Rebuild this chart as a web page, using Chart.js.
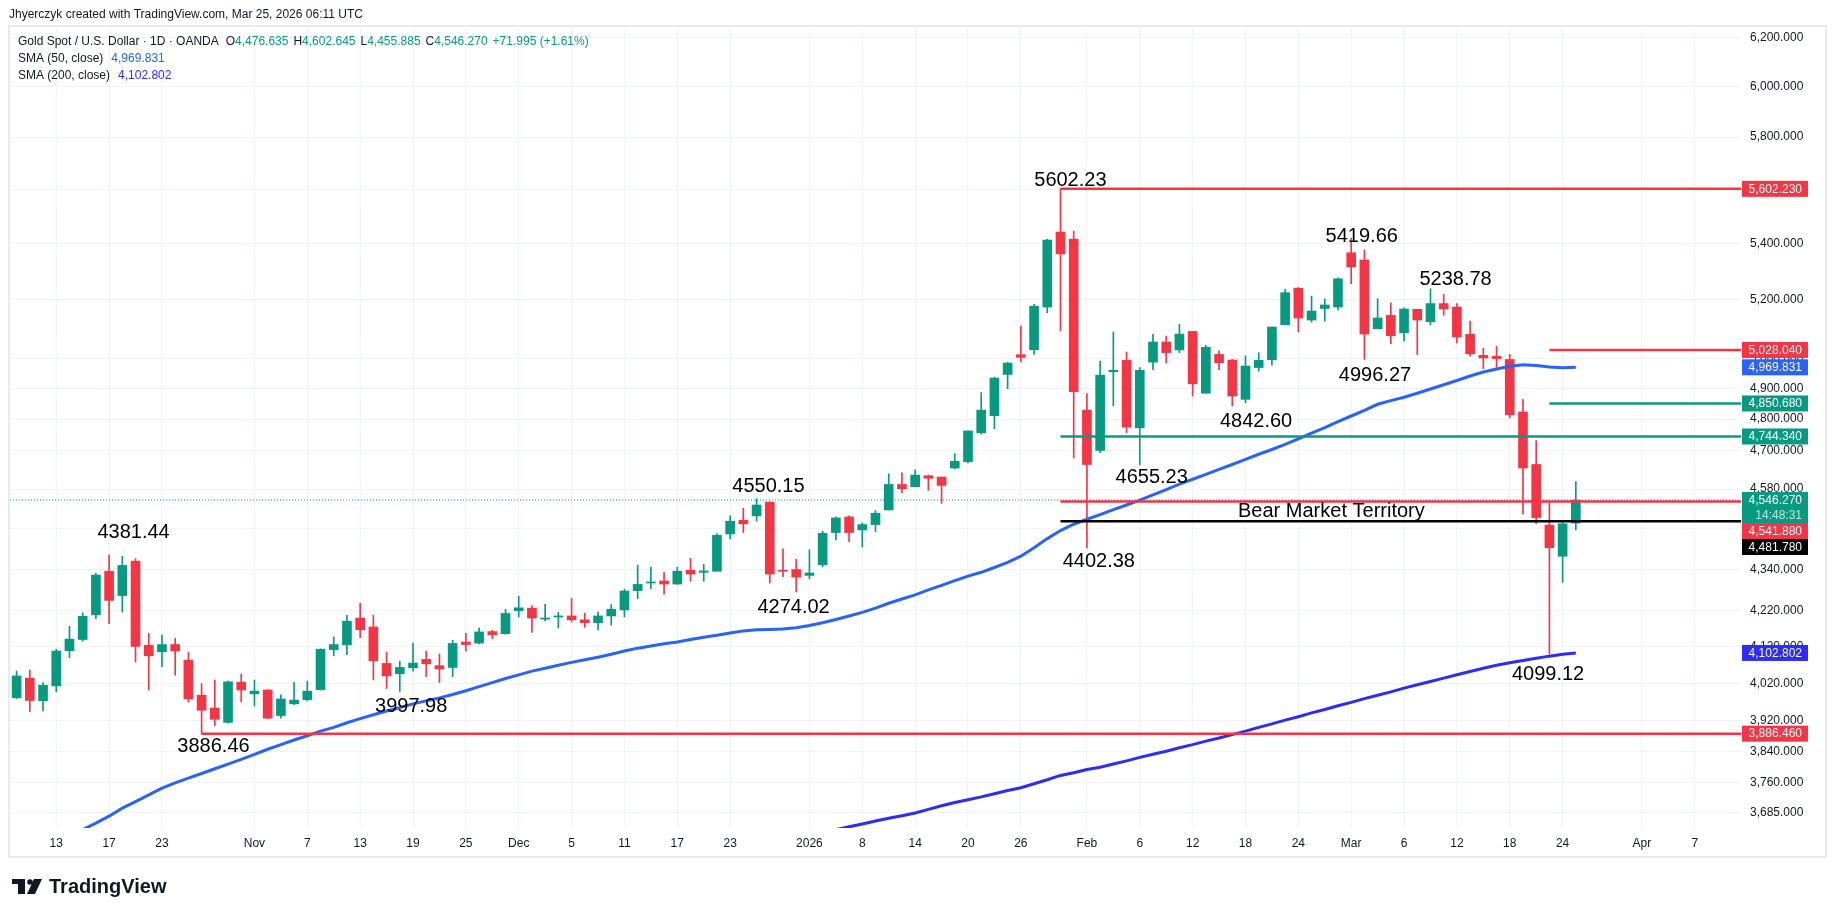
<!DOCTYPE html>
<html>
<head>
<meta charset="utf-8">
<script src="https://cdn.jsdelivr.net/npm/chart.js@4.4.1/dist/chart.umd.min.js"></script>
<style>
  html, body { margin: 0; padding: 0; background: #fff; }
  #wrap { width: 1835px; height: 917px; }
</style>
</head>
<body>
<div id="wrap"><canvas id="goldChart" width="1835" height="917"></canvas></div>
<script>
// trading days shown on the time axis (future days have no candle yet)
const dates = [
  '2025-10-08','2025-10-09','2025-10-10','2025-10-13','2025-10-14','2025-10-15','2025-10-16','2025-10-17','2025-10-20','2025-10-21',
  '2025-10-22','2025-10-23','2025-10-24','2025-10-27','2025-10-28','2025-10-29','2025-10-30','2025-10-31',
  '2025-11-03','2025-11-04','2025-11-05','2025-11-06','2025-11-07','2025-11-10','2025-11-11','2025-11-12','2025-11-13','2025-11-14',
  '2025-11-17','2025-11-18','2025-11-19','2025-11-20','2025-11-21','2025-11-24','2025-11-25','2025-11-26','2025-11-27','2025-11-28',
  '2025-12-01','2025-12-02','2025-12-03','2025-12-04','2025-12-05','2025-12-08','2025-12-09','2025-12-10','2025-12-11','2025-12-12',
  '2025-12-15','2025-12-16','2025-12-17','2025-12-18','2025-12-19','2025-12-22','2025-12-23','2025-12-24','2025-12-26','2025-12-29',
  '2025-12-30','2025-12-31',
  '2026-01-02','2026-01-05','2026-01-06','2026-01-07','2026-01-08','2026-01-09','2026-01-12','2026-01-13','2026-01-14','2026-01-15',
  '2026-01-16','2026-01-19','2026-01-20','2026-01-21','2026-01-22','2026-01-23','2026-01-26','2026-01-27','2026-01-28','2026-01-29',
  '2026-01-30',
  '2026-02-02','2026-02-03','2026-02-04','2026-02-05','2026-02-06','2026-02-09','2026-02-10','2026-02-11','2026-02-12','2026-02-13',
  '2026-02-16','2026-02-17','2026-02-18','2026-02-19','2026-02-20','2026-02-23','2026-02-24','2026-02-25','2026-02-26','2026-02-27',
  '2026-03-02','2026-03-03','2026-03-04','2026-03-05','2026-03-06','2026-03-09','2026-03-10','2026-03-11','2026-03-12','2026-03-13',
  '2026-03-16','2026-03-17','2026-03-18','2026-03-19','2026-03-20','2026-03-23','2026-03-24','2026-03-25','2026-03-26','2026-03-27',
  '2026-03-30','2026-03-31',
  '2026-04-01','2026-04-02','2026-04-03','2026-04-06','2026-04-07','2026-04-08','2026-04-09','2026-04-10'
];

const opens = [
  3981,4034,3973,4013,4109,4140,4209,4334,4264,4364,
  4124,4106,4126,4083,3988,3954,3916,4023,3992,4002,
  3934,3965,3976,4003,4112,4125,4200,4175,4074,4046,
  4062,4085,4068,4063,4133,4130,4162,4156,4221,4228,
  4197,4203,4206,4195,4187,4206,4223,4278,4300,4306,
  4297,4337,4331,4334,4444,4485,4498,4540,4337,4339,
  4322,4353,4448,4495,4456,4472,4516,4594,4587,4621,
  4617,4645,4665,4756,4811,4946,5012,5029,5175,5442,
  5416,4829,4700,4955,4993,4772,4987,5055,5028,5091,
  4884,5013,4994,4864,4969,4995,5114,5241,5130,5170,
  5175,5367,5341,5100,5146,5086,5167,5124,5187,5175,
  5081,5010,5007,4996,4823,4656,4470.5,4378,4476.635
];
const highs = [
  4053,4056,4022,4113,4177,4215,4328,4381.44,4378,4371,
  4157,4152,4143,4105,4019,4029,4026,4045,4029,4003,
  3989,4023,4026,4114,4147,4208,4242,4208,4105,4080,
  4130,4108,4100,4138,4157,4172,4166,4225,4262,4235,
  4239,4216,4256,4214,4217,4238,4282,4352,4346,4331,
  4346,4372,4354,4445,4498,4521,4550.15,4541,4400,4369,
  4397,4452,4495,4498,4477,4514,4627,4630,4639,4623,
  4617,4690,4762,4886,4937,4987,5109,5184,5416,5602.23,
  5446,4883,4991,5089,5021,4969,5081,5075,5115,5091,
  5044,5025,4996,5008,5019,5106,5237,5243,5213,5203,
  5277,5419.66,5377,5204,5190,5172,5167,5238.78,5219,5187,
  5126,5034,5041,5013,4864,4731,4537,4482,4602.645
];
const lows = [
  3979,3944,3946,3997,4090,4135,4198,4184,4217,4078,
  4002,4065,4042,3970,3886.46,3907,3914,3970,3959,3926,
  3927,3963,3973,4002,4095,4098,4145,4029,4006,3997.98,
  4053,4038,4022,4038,4108,4128,4142,4155,4203,4160,
  4192,4172,4189,4174,4167,4180,4203,4255,4284,4268,
  4296,4305,4305,4334,4429,4448,4482,4300,4318,4274.02,
  4312,4347,4426,4421,4405,4451,4516,4569,4587,4576,
  4536,4643,4661,4752,4769,4899,4988,5013,5155,5093,
  4676,4402.38,4693,4843,4756,4655.23,4962,4984,5019,4875,
  4884,4962,4842.60,4853,4957,4977,5114,5089,5123,5126,
  5165,5257,4996.27,5100,5049,5058,5012,5113,5146,5052,
  5007,4965,4970,4804,4503,4475,4099.12,4302,4455.885
];
const closes = [
  4040,3974,4015,4108,4141,4205,4323,4250,4351,4121,
  4095,4126,4108,3978,3948,3924,4024,4002,3999,3927,
  3978,3975,3999,4113,4126,4191,4167,4081,4040,4063,
  4075,4073,4059,4129,4126,4161,4153,4213,4229,4200,
  4200,4206,4195,4187,4206,4225,4277,4296,4303,4297,
  4334,4326,4335,4440,4482,4474,4531,4326,4334,4317,
  4329,4446,4492,4448,4472,4506,4594,4581,4623,4613,
  4591,4666,4762,4829,4934,4984,5003,5178,5413,5363,
  4889,4656,4944,4960,4774,4960,5055,5019,5082,4915,
  5037,4985,4875,4974,4993,5106,5225,5137,5161,5182,
  5274,5316,5082,5137,5076,5168,5130,5187,5168,5072,
  5015,5001,4999,4814,4645,4493,4403,4474.275,4546.27
];

// moving averages
const sma50 = [
  3555,3572,3590,3608,3626,3644,3660,3677,3697,3713,
  3730,3747,3760,3772,3784,3796,3808,3820,3833,3846,
  3858,3870,3881,3893,3903,3915,3926,3936,3946,3955,
  3965,3973,3981,3990,4000,4011,4022,4033,4043,4053,
  4061,4069,4077,4084,4091,4099,4108,4116,4122,4128,
  4133,4140,4146,4152,4158,4164,4167,4168,4169,4173,
  4179,4187,4196,4206,4216,4228,4242,4254,4266,4280,
  4293,4307,4320,4331,4345,4360,4378,4403,4430,4454,
  4473,4488,4502,4517,4531,4546,4562,4578,4595,4610,
  4625,4641,4656,4672,4688,4703,4719,4737,4755,4773,
  4792,4810,4828,4848,4860,4871,4884,4898,4912,4926,
  4941,4954,4964,4973,4978,4976,4971,4968,4969.831
];
const sma200 = Array(60).fill(null).concat([
  3628,3636,3644,3651,3658,3665,3672,3678,3685,3694,
  3703,3711,3718,3725,3733,3741,3748,3758,3768,3779,
  3786,3794,3800,3808,3816,3825,3833,3841,3850,3858,
  3867,3875,3884,3893,3903,3912,3922,3931,3941,3950,
  3960,3969,3979,3988,3997,4007,4016,4025,4034,4043,
  4052,4061,4069,4076,4082,4088,4094,4099,4102.802
]);

const tickDates = [
  '2025-10-13','2025-10-17','2025-10-23','2025-11-03','2025-11-07','2025-11-13','2025-11-19','2025-11-25',
  '2025-12-01','2025-12-05','2025-12-11','2025-12-17','2025-12-23','2026-01-02','2026-01-08','2026-01-14',
  '2026-01-20','2026-01-26','2026-02-02','2026-02-06','2026-02-12','2026-02-18','2026-02-24','2026-03-02',
  '2026-03-06','2026-03-12','2026-03-18','2026-03-24','2026-04-01','2026-04-07'
];
const priceTicks = [6200,6000,5800,5600,5400,5200,5000,4900,4800,4700,4580,4460,4340,4220,4120,4020,3920,3840,3760,3685];

// horizontal levels drawn on the chart, and the day each one starts from
const levelValues = [5602.23, 5028.04, 4850.68, 4744.34, 4541.88, 4481.78, 3886.46];
const levelFrom = ['2026-01-29','2026-03-23','2026-03-23','2026-01-29','2026-01-29','2026-01-29','2025-10-28'];

// text notes: label, day, price
const noteText = ['4381.44','3886.46','3997.98','4550.15','4274.02','5602.23','4402.38','4655.23','4842.60','5419.66','4996.27','5238.78','4099.12','Bear Market Territory'];
const noteDay = ['2025-10-20','2025-10-28','2025-11-18','2025-12-29','2025-12-31','2026-01-30','2026-02-03','2026-02-09','2026-02-18','2026-03-03','2026-03-04','2026-03-11','2026-03-23','2026-02-26'];
const noteShift = [0.85,0.9,0.86,-0.1,-0.2,-0.25,-0.1,-0.1,0.8,-0.2,-0.2,0.9,-0.1,0.5];
const notePrice = [4447,3852,3958,4589,4229,5634,4362,4615,4792,5427,4944,5272,4044,4510];

const countdown = '14:48:31';

const FONT = '"Liberation Sans", Arial, sans-serif';
const GREEN = '#089981', RED = '#f23645', BLUE50 = '#2962ff', BLUE200 = '#2e2bff', INK = '#131722';
const levelColors = [RED, RED, GREEN, GREEN, RED, '#000000', RED];
const monthNames = ['Jan','Feb','Mar','Apr','May','Jun','Jul','Aug','Sep','Oct','Nov','Dec'];

const n = closes.length;
const candleColors = closes.map((c, i) => c >= opens[i] ? GREEN : RED);

function tickText(d) {
    const i = dates.indexOf(d);
    const prev = dates[i - 1];
    const [yy, mm, dd] = d.split('-').map(Number);
    if (prev && prev.slice(0, 7) !== d.slice(0, 7)) return mm === 1 ? String(yy) : monthNames[mm - 1];
    return String(dd);
}
const fmt3 = v => v.toLocaleString('en-US', { minimumFractionDigits: 3, maximumFractionDigits: 3 });

const levelSets = levelValues.map((v, k) => ({
    type: 'line',
    data: [{ x: dates.indexOf(levelFrom[k]), y: v }, { x: dates.length - 0.5, y: v }],
    borderColor: levelColors[k],
    borderWidth: 2.5,
    pointRadius: 0,
    order: 1
}));

const overlay = {
    id: 'overlay',
    beforeDraw(chart) {
        const ctx = chart.ctx;
        ctx.save();
        ctx.fillStyle = '#ffffff';
        ctx.fillRect(0, 0, chart.width, chart.height);
        ctx.restore();
    },
    afterDraw(chart) {
        const { ctx, scales: { x, y } } = chart;
        ctx.save();

        // notes on the chart
        ctx.font = '20px ' + FONT;
        ctx.fillStyle = '#000';
        ctx.textAlign = 'center';
        ctx.textBaseline = 'middle';
        noteText.forEach((t, k) => {
            ctx.fillText(t, x.getPixelForValue(dates.indexOf(noteDay[k]) + noteShift[k]), y.getPixelForValue(notePrice[k]));
        });

        // price tags on the right axis
        const tags = [
            { v: levelValues[0], bg: RED }, { v: levelValues[1], bg: RED }, { v: sma50[n - 1], bg: BLUE50 },
            { v: levelValues[2], bg: GREEN }, { v: levelValues[3], bg: GREEN },
            { v: closes[n - 1], bg: GREEN, sub: countdown, fixed: true },
            { v: levelValues[4], bg: RED }, { v: levelValues[5], bg: '#000000' },
            { v: sma200[n - 1], bg: BLUE200 }, { v: levelValues[6], bg: RED }
        ];
        tags.forEach(t => { t.h = t.sub ? 31 : 16; t.ideal = y.getPixelForValue(t.v) - 8; });
        tags.sort((a, b) => a.ideal - b.ideal);
        const groups = [];
        tags.forEach(t => {
            groups.push({ items: [t], top: t.ideal, h: t.h });
            while (groups.length > 1) {
                const g = groups[groups.length - 1], p = groups[groups.length - 2];
                if (p.top + p.h <= g.top) break;
                groups.pop();
                p.items = p.items.concat(g.items);
                p.h += g.h;
                let off = 0, sum = 0, fixedTop = null;
                p.items.forEach(it => {
                    if (it.fixed) fixedTop = it.ideal - off;
                    sum += it.ideal - off;
                    off += it.h;
                });
                p.top = fixedTop !== null ? fixedTop : sum / p.items.length;
            }
        });
        ctx.font = '12px ' + FONT;
        ctx.textAlign = 'right';
        groups.forEach(g => {
            let top = g.top;
            g.items.forEach(t => {
                ctx.fillStyle = t.bg;
                ctx.fillRect(1742, top, 66, t.h);
                ctx.fillStyle = '#ffffff';
                ctx.fillText(fmt3(t.v), 1802, top + 8.5);
                if (t.sub) {
                    ctx.fillStyle = 'rgba(255,255,255,0.72)';
                    ctx.fillText(t.sub, 1802, top + 23.5);
                }
                top += t.h;
            });
        });

        // frame
        ctx.strokeStyle = '#e9eaec';
        ctx.lineWidth = 2;
        ctx.strokeRect(9, 26, 1817, 831);

        // header and legend
        ctx.textAlign = 'left';
        ctx.textBaseline = 'middle';
        ctx.font = '12px ' + FONT;
        ctx.fillStyle = INK;
        ctx.fillText('Jhyerczyk created with TradingView.com, Mar 25, 2026 06:11 UTC', 9, 15);

        const run = (parts, px, py) => {
            parts.forEach(([s, c, gap]) => {
                ctx.fillStyle = c;
                ctx.fillText(s, px, py);
                px += ctx.measureText(s).width + (gap || 0);
            });
        };
        const chg = closes[n - 1] - closes[n - 2];
        const pct = chg / closes[n - 2] * 100;
        run([
            ['Gold Spot / U.S. Dollar \u00b7 1D \u00b7 OANDA', INK, 7],
            ['O', INK], [fmt3(opens[n - 1]), GREEN, 5],
            ['H', INK], [fmt3(highs[n - 1]), GREEN, 5],
            ['L', INK], [fmt3(lows[n - 1]), GREEN, 5],
            ['C', INK], [fmt3(closes[n - 1]), GREEN, 5],
            [(chg >= 0 ? '+' : '') + fmt3(chg) + ' (' + (pct >= 0 ? '+' : '') + pct.toFixed(2) + '%)', GREEN]
        ], 18, 42);
        run([['SMA (50, close)', INK, 8], [fmt3(sma50[n - 1]), BLUE50]], 18, 59);
        run([['SMA (200, close)', INK, 8], [fmt3(sma200[n - 1]), BLUE200]], 18, 76);

        // TradingView logo
        ctx.fillStyle = INK;
        ctx.fillRect(12, 879, 13, 5);
        ctx.fillRect(18, 879, 7, 15);
        ctx.beginPath();
        ctx.arc(30, 882, 2.8, 0, Math.PI * 2);
        ctx.fill();
        ctx.beginPath();
        ctx.moveTo(34, 879); ctx.lineTo(42, 879); ctx.lineTo(35, 894); ctx.lineTo(27, 894);
        ctx.closePath();
        ctx.fill();
        ctx.font = 'bold 20px ' + FONT;
        ctx.fillText('TradingView', 49, 887);
        ctx.restore();
    }
};

Chart.defaults.font.family = FONT;

new Chart(document.getElementById('goldChart').getContext('2d'), {
    type: 'bar',
    data: {
        datasets: [
            ...levelSets,
            {
                type: 'line',
                label: 'SMA 50',
                data: sma50.map((v, i) => ({ x: i, y: v })),
                borderColor: BLUE50,
                borderWidth: 3,
                pointRadius: 0,
                order: 2
            },
            {
                type: 'line',
                label: 'SMA 200',
                data: sma200.map((v, i) => ({ x: i, y: v })).filter(p => p.y !== null),
                borderColor: BLUE200,
                borderWidth: 3,
                pointRadius: 0,
                order: 3
            },
            {
                label: 'body',
                data: closes.map((c, i) => ({ x: i, y: [Math.min(opens[i], c), Math.max(opens[i], c)] })),
                backgroundColor: candleColors,
                barThickness: 9,
                minBarLength: 1,
                grouped: false,
                borderWidth: 0,
                order: 4
            },
            {
                label: 'wick',
                data: closes.map((c, i) => ({ x: i, y: [lows[i], highs[i]] })),
                backgroundColor: candleColors,
                barThickness: 1,
                grouped: false,
                borderWidth: 0,
                order: 5
            },
            {
                type: 'line',
                label: 'last price',
                data: [{ x: -0.5, y: closes[n - 1] }, { x: dates.length - 0.5, y: closes[n - 1] }],
                borderColor: GREEN,
                borderWidth: 1,
                borderDash: [1, 2],
                pointRadius: 0,
                order: 6
            }
        ]
    },
    options: {
        responsive: false,
        animation: false,
        layout: { padding: { left: 10, top: 27, right: 10, bottom: 60 } },
        plugins: { legend: { display: false }, tooltip: { enabled: false } },
        scales: {
            x: {
                type: 'linear',
                min: -0.5,
                max: dates.length - 0.5,
                bounds: 'data',
                offset: false,
                afterBuildTicks: s => { s.ticks = tickDates.map(d => ({ value: dates.indexOf(d) })); },
                afterFit: s => { s.height = 29; },
                grid: { color: '#f0f3fa', drawTicks: false, offset: false },
                border: { display: false },
                ticks: {
                    autoSkip: false,
                    maxRotation: 0,
                    padding: 8,
                    color: INK,
                    font: { size: 12 },
                    callback: v => tickText(dates[v])
                }
            },
            y: {
                type: 'logarithmic',
                position: 'right',
                min: 3648,
                max: 6245,
                bounds: 'data',
                afterBuildTicks: s => { s.ticks = priceTicks.map(v => ({ value: v })); },
                afterFit: s => { s.width = 84; },
                grid: { color: '#f0f3fa', drawTicks: false },
                border: { display: false },
                ticks: {
                    autoSkip: false,
                    crossAlign: 'near',
                    padding: 9,
                    color: INK,
                    font: { size: 12 },
                    callback: v => fmt3(v)
                }
            }
        }
    },
    plugins: [overlay]
});
</script>
</body>
</html>
